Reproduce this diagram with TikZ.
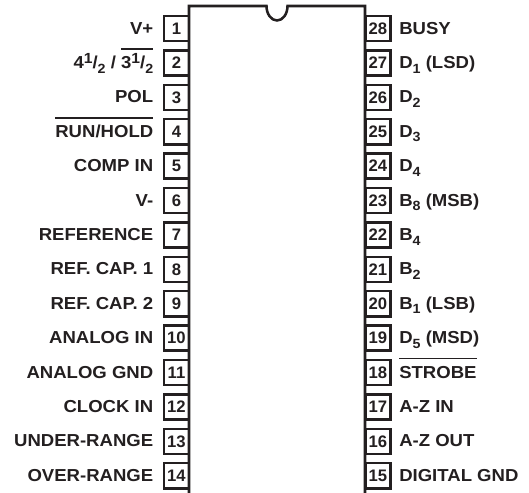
\documentclass[tikz,border=0pt]{standalone}
\usepackage{fontspec}
\setmainfont{Liberation Sans}
\newfontfamily\pinfont[FakeStretch=1.07]{Liberation Sans}
\definecolor{inkdark}{HTML}{231F20}
\newsavebox{\barbox}
\newcommand{\lowidx}[1]{\raisebox{-3.5pt}{\fontsize{10}{10}\selectfont #1}}
\newcommand{\highidx}[1]{\raisebox{3.75pt}{\fontsize{11}{11}\selectfont #1}}
\newcommand{\barred}[1]{\sbox{\barbox}{#1}\rlap{\rule[14pt]{\wd\barbox}{1.1pt}}\usebox{\barbox}}
\tikzset{
  pinbox/.style={draw=inkdark,line width=1.9pt,minimum width=19pt,minimum height=18.8pt,inner sep=0pt,
    text=inkdark,font=\fontsize{12.5}{12.5}\selectfont\bfseries},
  pinlabel/.style={inner sep=0pt,text=inkdark,font=\pinfont\fontsize{13}{13}\selectfont\bfseries}
}
\begin{document}
\begin{tikzpicture}[x=0.75pt,y=-0.75pt]
      \def \LeftPins{
        1/{V+},
        2/{4\highidx{1}/\lowidx{2} / \barred{3\highidx{1}/\lowidx{2}}},
        3/{POL},
        4/{\barred{RUN/HOLD}},
        5/{COMP IN},
        6/{V-},
        7/{REFERENCE},
        8/{REF. CAP. 1},
        9/{REF. CAP. 2},
        10/{ANALOG IN},
        11/{ANALOG GND},
        12/{CLOCK IN},
        13/{UNDER-RANGE},
        14/{OVER-RANGE}}
      \def \RightPins{
        28/{BUSY},
        27/{D\lowidx{1} (LSD)},
        26/{D\lowidx{2}},
        25/{D\lowidx{3}},
        24/{D\lowidx{4}},
        23/{B\lowidx{8} (MSB)},
        22/{B\lowidx{4}},
        21/{B\lowidx{2}},
        20/{B\lowidx{1} (LSB)},
        19/{D\lowidx{5} (MSD)},
        18/{\barred{STROBE}},
        17/{A-Z IN},
        16/{A-Z OUT},
        15/{DIGITAL GND}}
      \useasboundingbox (0, 0) rectangle (529, 493);
      \path[draw=inkdark,line width=1.9pt] (189, 493) -- (189, 6) -- (266.5, 6)
        arc[start angle=180,end angle=0,x radius=10.5,y radius=14.5] -- (365, 6) -- (365, 493);
      \foreach \id / \lb in \LeftPins{
        \node[pinbox] (pin\id) at (176.5, {28.5+34.4*(\id-1)}) {\id};
        \node[pinlabel,anchor=base east] (label\id) at (153.5, {34+34.4*(\id-1)}) {\lb};
      }
      \foreach \id / \lb in \RightPins{
        \node[pinbox] (pin\id) at (378, {28.5+34.4*(28-\id)}) {\id};
        \node[pinlabel,anchor=base west] (label\id) at (399, {34+34.4*(28-\id)}) {\lb};
      }
    \end{tikzpicture}
\end{document}
